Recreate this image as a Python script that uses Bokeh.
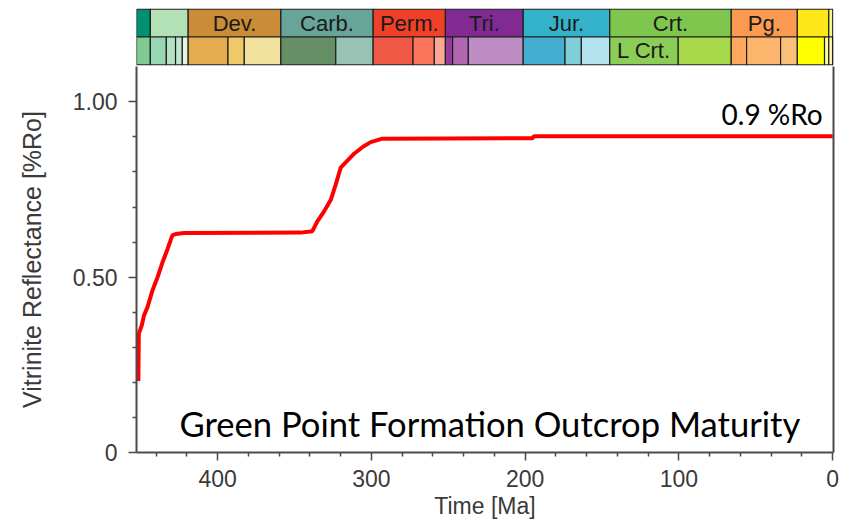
from bokeh.plotting import figure
from bokeh.layouts import column
from bokeh.models import Range1d, FixedTicker, LinearAxis, Label, ColumnDataSource
from bokeh.core.properties import value
from bokeh.embed import file_html
from bokeh.resources import INLINE

# ---------------- data ----------------
# Vitrinite reflectance history (age in Ma, %Ro)
age = [451.6, 451.3, 449.4, 447.9, 445.7, 442.5, 439.2, 436.0, 432.7, 429.5, 427.3,
       421.8, 346.0, 338.4, 335.2, 330.9, 326.5, 323.3, 320.0, 315.0, 311.3, 305.5,
       300.5, 292.9, 195.3, 194.3, 0.0]
ro = [0.204, 0.339, 0.362, 0.391, 0.414, 0.461, 0.499, 0.541, 0.579, 0.619, 0.623,
      0.626, 0.627, 0.631, 0.659, 0.687, 0.720, 0.763, 0.812, 0.835, 0.852, 0.872,
      0.885, 0.895, 0.896, 0.902, 0.902]

# Geological periods (top row of time scale)
period_label = ["", "", "Dev.", "Carb.", "Perm.", "Tri.", "Jur.", "Crt.", "Pg.", "", ""]
period_start = [485.4, 443.8, 419.2, 358.9, 298.9, 251.9, 201.3, 145.0, 66.0, 23.03, 2.58]
period_end = [443.8, 419.2, 358.9, 298.9, 251.9, 201.3, 145.0, 66.0, 23.03, 2.58, 0.0]
period_color = ["#009270", "#B3E1B6", "#CB8C37", "#67A599", "#F04028", "#812B92",
                "#34B2C9", "#7FC64E", "#FD9A52", "#FFE619", "#F9F97F"]

# Epochs (bottom row of time scale)
epoch_label = ["", "", "", "", "", "", "", "", "", "", "", "", "", "", "", "",
               "", "", "", "L Crt.", "", "", "", "", "", "", "", ""]
epoch_start = [458.4, 443.8, 433.4, 427.4, 423.0, 419.2, 393.3, 382.7, 358.9, 323.2,
               298.9, 272.95, 259.1, 251.9, 247.2, 237.0, 201.3, 174.1, 163.5, 145.0,
               100.5, 66.0, 56.0, 33.9, 23.03, 5.333, 2.58, 0.0117]
epoch_end = epoch_start[1:] + [0.0]
epoch_color = ["#7FCA93", "#99D7B3", "#B3E1C2", "#BFE6CF", "#E6F5E1", "#E5AC4D",
               "#F1C868", "#F1E19D", "#678F66", "#99C2B5", "#EF5845", "#FB745C",
               "#FBA794", "#983999", "#B168B1", "#BD8CC3", "#42AED0", "#80CFD8",
               "#B3E3EE", "#8CCD57", "#A6D84A", "#FDA75F", "#FDB46C", "#FDC07A",
               "#FFFF00", "#FFFF99", "#FFF2AE", "#FEF2E0"]

x_major = [0, 100, 200, 300, 400]
x_minor = [v for v in range(20, 460, 20) if v % 100 != 0]
y_major = [0, 0.5, 1.0]
y_minor = [0.1, 0.2, 0.3, 0.4, 0.6, 0.7, 0.8, 0.9]
y_labels = {0: "0", 0.5: "0.50", 1.0: "1.00"}

# ---------------- layout constants ----------------
X_START, X_END = 452.8, -0.5
Y_TOP = 1.1007

AX_COLOR = "#4a4a4a"
TXT_COLOR = "#3a3a3a"
FONT = "Liberation Sans"

x_range = Range1d(X_START, X_END)

# ---------- time-scale strip ----------
ts = figure(width=848, height=66, output_backend="svg", toolbar_location=None,
            x_range=x_range, y_range=Range1d(-0.012, 1.012),
            min_border_left=136, min_border_right=15, min_border_top=8,
            min_border_bottom=1)
ts.axis.visible = False
ts.grid.visible = False
ts.outline_line_color = None
ts.border_fill_color = "white"

def clip(v):
    return min(v, X_START)

top_src = ColumnDataSource(dict(
    left=[clip(v) for v in period_start], right=period_end, color=period_color,
    label=period_label, xc=[(clip(a) + b) / 2 for a, b in zip(period_start, period_end)]))
bot_src = ColumnDataSource(dict(
    left=[clip(v) for v in epoch_start], right=epoch_end, color=epoch_color,
    label=epoch_label, xc=[(clip(a) + b) / 2 for a, b in zip(epoch_start, epoch_end)]))

ts.quad(left="left", right="right", bottom=0.5, top=1.0, fill_color="color",
        line_color="#1e1e1e", line_width=1.2, source=top_src)
ts.quad(left="left", right="right", bottom=0.0, top=0.5, fill_color="color",
        line_color="#1e1e1e", line_width=1.2, source=bot_src)
ts.text(x="xc", y=0.75, text="label", source=top_src,
        text_align="center", text_baseline="middle", text_font=value(FONT),
        text_font_size="22px", text_color="#1a1a1a")
ts.text(x="xc", y=0.25, text="label", source=bot_src,
        text_align="center", text_baseline="middle", text_font=value(FONT),
        text_font_size="22px", text_color="#1a1a1a")

# ---------- main plot ----------
p = figure(width=848, height=455, output_backend="svg", toolbar_location=None,
           x_range=x_range, y_range=Range1d(0, Y_TOP),
           min_border_left=136, min_border_right=15, min_border_top=0,
           min_border_bottom=67)
p.outline_line_color = None
p.grid.visible = False
p.background_fill_color = "white"
p.border_fill_color = "white"

p.line(age, ro, line_color="#FF0000", line_width=4)

for ax in (p.xaxis[0], p.yaxis[0]):
    ax.axis_line_color = AX_COLOR
    ax.axis_line_width = 2
    ax.major_tick_line_color = AX_COLOR
    ax.minor_tick_line_color = AX_COLOR
    ax.major_tick_line_width = 1.5
    ax.minor_tick_line_width = 1.5
    ax.major_tick_out = 8
    ax.major_tick_in = 0
    ax.minor_tick_out = 4
    ax.minor_tick_in = 0
    ax.major_label_text_font = FONT
    ax.major_label_text_font_size = "23px"
    ax.major_label_text_color = TXT_COLOR
    ax.axis_label_text_font = FONT
    ax.axis_label_text_font_style = "normal"
    ax.axis_label_text_color = TXT_COLOR

p.xaxis.ticker = FixedTicker(ticks=x_major, minor_ticks=x_minor)
p.xaxis.axis_label = "Time [Ma]"
p.xaxis.axis_label_text_font_size = "23px"
p.xaxis.major_label_standoff = 9
p.xaxis.axis_label_standoff = 3

p.yaxis.ticker = FixedTicker(ticks=y_major, minor_ticks=y_minor)
p.yaxis.major_label_overrides = y_labels
p.yaxis.axis_label = "Vitrinite Reflectance [%Ro]"
p.yaxis.axis_label_text_font_size = "25px"
p.yaxis.major_label_standoff = 11
p.yaxis.axis_label_standoff = 24

raxis = LinearAxis(ticker=FixedTicker(ticks=[]),
                   major_label_text_font_size="0px", major_tick_line_color=None,
                   minor_tick_line_color=None, axis_line_color=AX_COLOR,
                   axis_line_width=2)
p.add_layout(raxis, "right")

p.add_layout(Label(x=6.5, y=0.9645, text="0.9 %Ro", text_align="right",
                   text_baseline="alphabetic", text_font="Lato",
                   text_font_size="28px", text_color="#000000"))
p.add_layout(Label(x=223, y=0.082, text="Green Point Formation Outcrop Maturity",
                   text_align="center", text_baseline="alphabetic", text_font="Lato",
                   text_font_size="34.6px", text_color="#000000"))

layout = column(ts, p, spacing=0)
open("out.html", "w").write(file_html(layout, INLINE))
